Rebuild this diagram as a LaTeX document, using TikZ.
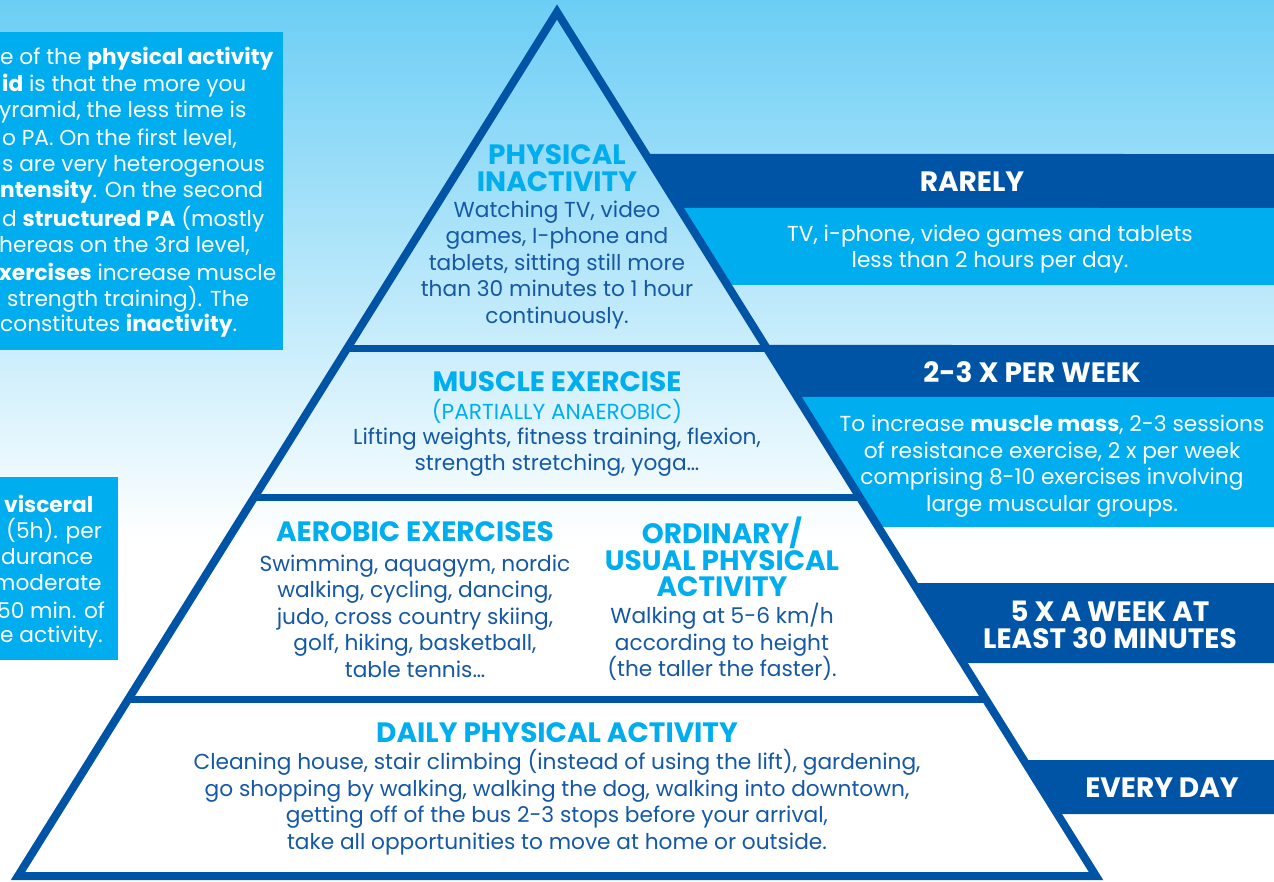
\documentclass[tikz,border=0pt]{standalone}
\usepackage{fontspec}
\setmainfont{Poppins}
\usetikzlibrary{positioning, calc}

\definecolor{pyrblue}{RGB}{0,84,166}
\definecolor{pyrcyan}{RGB}{0,174,239}
\definecolor{skytop}{RGB}{108,206,245}
\definecolor{textblue}{RGB}{20,88,166}

\newcommand{\bodyfont}{\fontsize{21.7}{26.5}\selectfont}
\newcommand{\headfont}{\fontsize{28}{26.5}\selectfont\bfseries}

\begin{document}
\begin{tikzpicture}[x=1pt, y=-1pt, inner sep=0pt,
    head/.style={text=pyrcyan, font=\headfont, align=center},
    body/.style={text=textblue, font=\bodyfont, align=center},
    band/.style={fill=pyrblue},
    note/.style={fill=pyrcyan},
    bandtext/.style={text=white, font=\headfont, align=center},
    notetext/.style={text=white, font=\bodyfont, align=center},
    side/.style={text=white, font=\bodyfont, anchor=west}]
  \useasboundingbox (0,0) rectangle (1274,881);
  \clip (0,0) rectangle (1274,881);
  % sky
  \fill[white] (0,0) rectangle (1274,881);
  \shade[top color=skytop, bottom color=white] (0,0) rectangle (1274,540);

  % pyramid corners
  \coordinate (apex) at (557,12);
  \coordinate (bl) at (18,876);
  \coordinate (br) at (1096,876);

  % left notes, cut by the page edge
  \fill[note] (0,32) rectangle (283,350);
  \node[side] (l1) at (0,59) {e of the \textbf{physical activity}};
  \node[side] (l2) at (2,86) {\textbf{id} is that the more you};
  \node[side] (l3) at (-1,112) {yramid, the less time is};
  \node[side] (l4) at (2,139) {o PA. On the first level,};
  \node[side] (l5) at (2,166) {s are very heterogenous};
  \node[side] (l6) at (0,192) {\textbf{ntensity}. On the second};
  \node[side] (l7) at (2,219) {d \textbf{structured PA} (mostly};
  \node[side] (l8) at (-1,246) {hereas on the 3rd level,};
  \node[side] (l9) at (-1,272) {\textbf{xercises} increase muscle};
  \node[side] (l10) at (7,299) {strength training). The};
  \node[side] (l11) at (0,326) {constitutes \textbf{inactivity}.};

  \fill[note] (0,477) rectangle (118,660);
  \node[side] (v1) at (4,504) {\textbf{visceral}};
  \node[side] (v2) at (6,531) {(5h). per};
  \node[side] (v3) at (1,557) {durance};
  \node[side] (v4) at (-7,583) {moderate};
  \node[side] (v5) at (-3,610) {50 min. of};
  \node[side] (v6) at (0,637) {e activity.};

  % right bands, y from / y to
  \foreach \ya/\yb/\s in {154/208/band, 208/285/note, 345/397/band,
      397/527/note, 583/663/band, 760/814/band}
    \fill[\s] ($(apex)!{(\ya-12)/864}!(br)$) -- ($(apex)!{(\yb-12)/864}!(br)$)
      -- (1274,\yb) -- (1274,\ya) -- cycle;

  \node[bandtext] (rarely) at (972,182) {RARELY};
  \node[notetext] (rarelytxt) at (990,249) {TV, i-phone, video games and tablets\\less than 2 hours per day.};
  \node[bandtext] (week) at (1032,372) {2-3 X PER WEEK};
  \node[notetext] (weektxt) at (1052,466) {To increase \textbf{muscle mass}, 2-3 sessions\\of resistance exercise, 2 x per week\\comprising 8-10 exercises involving\\large muscular groups.};
  \node[bandtext] (five) at (1110,625) {5 X A WEEK AT\\LEAST 30 MINUTES};
  \node[bandtext] (every) at (1162,788) {EVERY DAY};

  % pyramid
  \draw[pyrblue, line width=8pt, line join=miter] (apex) -- (bl) -- (br) -- cycle;
  \foreach \y in {348,497,699}
    \draw[pyrblue, line width=7pt] ($(apex)!{(\y-12)/864}!(bl)$) -- ($(apex)!{(\y-12)/864}!(br)$);

  % levels
  \node[head] (inact) at (557,168) {PHYSICAL\\INACTIVITY};
  \node[body] (inacttxt) at (557,265) {Watching TV, video\\games, I-phone and\\tablets, sitting still more\\than 30 minutes to 1 hour\\continuously.};

  \node[head] (muscle) at (557,382) {MUSCLE EXERCISE};
  \node[body, text=pyrcyan] (anaer) at (557,411) {(PARTIALLY ANAEROBIC)};
  \node[body] (muscletxt) at (557,452) {Lifting weights, fitness training, flexion,\\strength stretching, yoga…};

  \node[head] (aerob) at (415,532) {AEROBIC EXERCISES};
  \node[body] (aerobtxt) at (415,616) {Swimming, aquagym, nordic\\walking, cycling, dancing,\\judo, cross country skiing,\\golf, hiking, basketball,\\table tennis…};

  \node[head] (ordin) at (722,557) {ORDINARY/\\USUAL PHYSICAL\\ACTIVITY};
  \node[body] (ordintxt) at (722,642) {Walking at 5-6 km/h\\according to height\\(the taller the faster).};

  \node[head] (daily) at (557,733) {DAILY PHYSICAL ACTIVITY};
  \node[body] (dailytxt) at (557,802) {Cleaning house, stair climbing (instead of using the lift), gardening,\\go shopping by walking, walking the dog, walking into downtown,\\getting off of the bus 2-3 stops before your arrival,\\take all opportunities to move at home or outside.};
\end{tikzpicture}
\end{document}
